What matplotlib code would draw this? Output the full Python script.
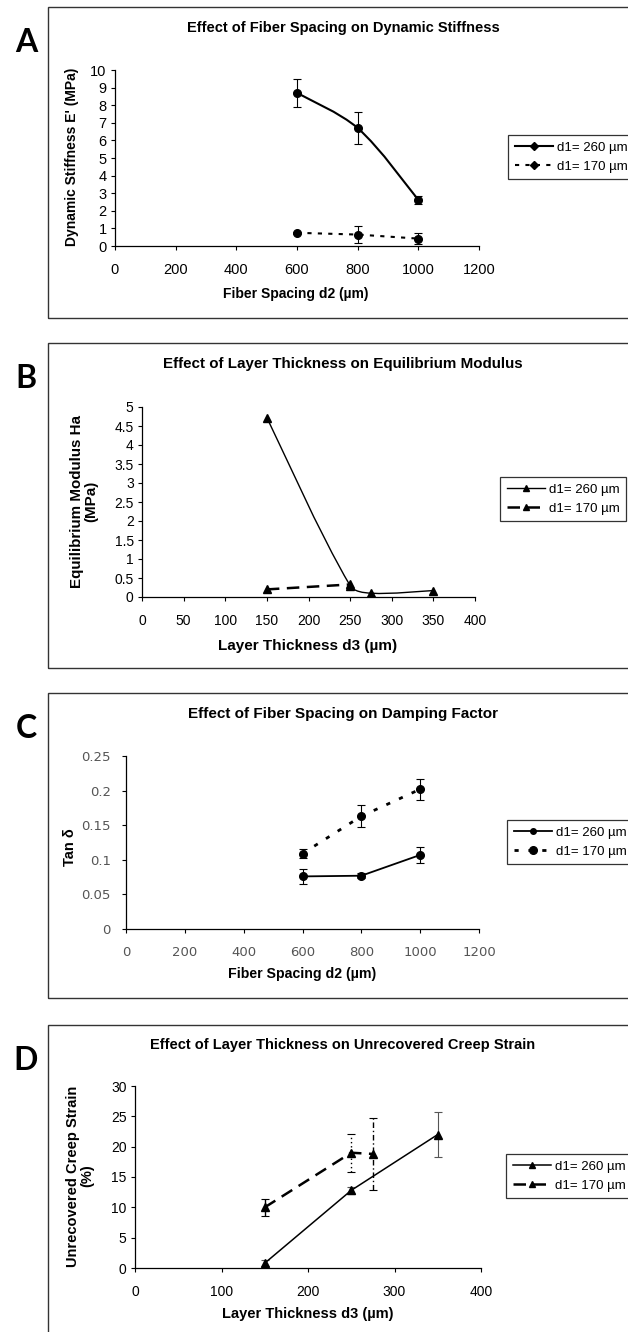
import numpy as np
import matplotlib
matplotlib.use("Agg")
import matplotlib.pyplot as plt
from matplotlib.path import Path
from matplotlib.patches import PathPatch, Rectangle
from matplotlib.lines import Line2D

# --- data ---
spacing = [600, 800, 1000]
thick_260 = [150, 250, 275, 350]
thick_170 = [150, 250]
creep_x_260 = [150, 250, 350]
creep_x_170 = [150, 250, 275]

# A: dynamic stiffness (MPa)
stiff_260 = [8.7, 6.7, 2.62]
stiff_260_err = [0.8, 0.9, 0.22]
stiff_170 = [0.75, 0.65, 0.42]
stiff_170_err = [0.05, 0.48, 0.3]

# B: equilibrium modulus (MPa)
mod_260 = [4.72, 0.3, 0.1, 0.17]
mod_170 = [0.2, 0.33]

# C: tan delta
tan_260 = [0.076, 0.077, 0.107]
tan_260_err = [0.011, 0.004, 0.012]
tan_170 = [0.109, 0.163, 0.202]
tan_170_err = [0.006, 0.016, 0.015]

# D: unrecovered creep strain (%)
creep_260 = [0.8, 12.8, 22.0]
creep_260_err = [0.5, 0.6, 3.7]
creep_170 = [10.0, 19.0, 18.8]
creep_170_err = [1.4, 3.1, 6.0]

legend_labels = ["d1= 260 \u00b5m", "d1= 170 \u00b5m"]

W, H = 628, 1332
fig = plt.figure(figsize=(W / 100, H / 100), dpi=100)
fig.patch.set_facecolor("white")

BOLD = ["Liberation Sans", "DejaVu Sans"]


def fx(px):
    return px / W


def fy(py):
    return 1 - py / H


def smooth(ax, x, y, **kw):
    # excel-like smoothed line, bezier built in screen space, tangent length
    # shared out by the lengths of the neighbouring segments
    p = ax.transData.transform(np.column_stack([x, y]).astype(float))
    n = len(p)
    d = np.hypot(*np.diff(p, axis=0).T)
    f = 1 / 6
    verts = [p[0]]
    codes = [Path.MOVETO]
    for i in range(n - 1):
        p0 = p[i - 1] if i > 0 else p[i]
        p1, p2 = p[i], p[i + 1]
        p3 = p[i + 2] if i + 2 < n else p[i + 1]
        s1 = 2 * d[i] / (d[i - 1] + d[i]) if i > 0 else 1.0
        s2 = 2 * d[i] / (d[i] + d[i + 1]) if i + 1 < n - 1 else 1.0
        verts += [p1 + (p2 - p0) * f * s1, p2 - (p3 - p1) * f * s2, p2]
        codes += [Path.CURVE4] * 3
    verts = ax.transData.inverted().transform(np.array(verts))
    ax.add_patch(PathPatch(Path(verts, codes), fill=False, **kw))


def panel(letter, box_top, box_bot, ax_rect, title, title_y, xlabel, xlabel_x, xlabel_y,
          ylabel, ylabel_x, ylabel_y, tsize=10.5, xsize=10.5, ysize=10.5):
    fig.patches.append(Rectangle((fx(48), fy(box_bot)), fx(660) - fx(48),
                                 fy(box_top) - fy(box_bot), transform=fig.transFigure,
                                 fill=False, edgecolor="#333333", lw=1.0))
    fig.text(fx(26), fy(box_top + 35), letter, fontsize=23, family="Lato",
             weight="bold", ha="center", va="center")
    fig.text(fx(343), fy(title_y), title, fontsize=tsize, weight="bold",
             family=BOLD, ha="center", va="center")
    fig.text(fx(xlabel_x), fy(xlabel_y), xlabel, fontsize=xsize, weight="bold",
             family=BOLD, ha="center", va="center")
    fig.text(fx(ylabel_x), fy(ylabel_y), ylabel, fontsize=ysize, weight="bold",
             family=BOLD, ha="center", va="center", rotation=90,
             multialignment="center", linespacing=1.05)
    l, r, t, b = ax_rect
    ax = fig.add_axes([fx(l), fy(b), fx(r) - fx(l), fy(t) - fy(b)])
    ax.set_facecolor("none")
    for s in ["top", "right"]:
        ax.spines[s].set_visible(False)
    ax.spines["left"].set_linewidth(0.9)
    ax.spines["bottom"].set_linewidth(0.9)
    ax.tick_params(axis="y", direction="out", length=3, width=0.8, pad=3)
    ax.tick_params(axis="x", direction="out", length=3, width=0.8, pad=9)
    return ax


def legend(handles, leg_x, leg_y, fam=BOLD, size=9.5):
    leg = fig.legend(handles=handles, labels=legend_labels, loc="upper left",
                     bbox_to_anchor=(fx(leg_x), fy(leg_y)), bbox_transform=fig.transFigure,
                     frameon=True, fancybox=False, prop={"family": fam, "size": size},
                     handlelength=2.9, handletextpad=0.3, borderpad=0.5,
                     labelspacing=0.5, borderaxespad=0)
    leg.get_frame().set_edgecolor("black")
    leg.get_frame().set_linewidth(0.9)


def ticks_font(ax, fam, size, color="black"):
    for lab in ax.get_xticklabels() + ax.get_yticklabels():
        lab.set_family(fam)
        lab.set_fontsize(size)
        lab.set_color(color)


# ---------------- A ----------------
axA = panel("A", 7, 318, (115, 479, 70, 246),
            "Effect of Fiber Spacing on Dynamic Stiffness", 28,
            "Fiber Spacing d2 (\u00b5m)", 296, 294,
            "Dynamic Stiffness E' (MPa)", 72, 157, tsize=10.5, xsize=10, ysize=10)
axA.set_xlim(0, 1200)
axA.set_ylim(0, 10)
smooth(axA, spacing, stiff_260, color="black", lw=1.5)
axA.errorbar(spacing, stiff_260, yerr=stiff_260_err, fmt="o", color="black",
             ms=5.5, capsize=3, elinewidth=0.8, capthick=0.8)
axA.plot(spacing, stiff_170, color="black", lw=1.5, ls=(0, (2, 3)))
axA.errorbar(spacing, stiff_170, yerr=stiff_170_err, fmt="o", color="black",
             ms=5.5, capsize=3, elinewidth=0.8, capthick=0.8)
axA.set_xticks(np.arange(0, 1201, 200))
axA.set_yticks(np.arange(0, 11, 1))
ticks_font(axA, BOLD, 10.5)
legend([Line2D([], [], color="black", lw=1.5, marker="D", ms=4),
        Line2D([], [], color="black", lw=1.5, ls=(0, (2, 3)), marker="D", ms=4)],
       508, 135)

# ---------------- B ----------------
axB = panel("B", 343, 668, (142, 475, 407, 597),
            "Effect of Layer Thickness on Equilibrium Modulus", 364,
            "Layer Thickness d3 (\u00b5m)", 308, 646,
            "Equilibrium Modulus Ha\n(MPa)", 84, 501, tsize=10.9, xsize=11, ysize=10.9)
axB.set_xlim(0, 400)
axB.set_ylim(0, 5)
smooth(axB, thick_260, mod_260, color="black", lw=1.0)
axB.plot(thick_260, mod_260, ls="none", marker="^", color="black", ms=5.5)
axB.plot(thick_170, mod_170, color="black", lw=1.8, ls=(0, (5, 3)), marker="^", ms=5.5)
axB.set_xticks(np.arange(0, 401, 50))
axB.set_yticks(np.arange(0, 5.01, 0.5))
axB.set_yticklabels(["0", "0.5", "1", "1.5", "2", "2.5", "3", "3.5", "4", "4.5", "5"])
ticks_font(axB, BOLD, 10)
legend([Line2D([], [], color="black", lw=1.0, marker="^", ms=5),
        Line2D([], [], color="black", lw=1.8, ls=(0, (5, 3)), marker="^", ms=5)],
       500, 477)

# ---------------- C ----------------
axC = panel("C", 693, 998, (126, 479, 756, 929),
            "Effect of Fiber Spacing on Damping Factor", 714,
            "Fiber Spacing d2 (\u00b5m)", 302, 974,
            "Tan \u03b4", 70, 847, tsize=11, xsize=10.2, ysize=10.5)
axC.errorbar(spacing, tan_260, yerr=tan_260_err, fmt="-o", color="black", lw=1.3,
             ms=5.5, capsize=3, elinewidth=0.8, capthick=0.8)
axC.errorbar(spacing, tan_170, yerr=tan_170_err, fmt="o", color="black",
             ms=5.5, capsize=3, elinewidth=0.8, capthick=0.8)
axC.plot(spacing, tan_170, color="black", lw=2.0, ls=(0, (1.5, 3.5)))
axC.set_xlim(0, 1200)
axC.set_ylim(0, 0.25)
axC.set_xticks(np.arange(0, 1201, 200))
axC.set_yticks(np.arange(0, 0.251, 0.05))
axC.set_yticklabels(["0", "0.05", "0.1", "0.15", "0.2", "0.25"])
axC.tick_params(axis="y", pad=8)
ticks_font(axC, ["DejaVu Sans"], 9.5, "#555555")
legend([Line2D([], [], color="black", lw=1.3, marker="o", ms=4),
        Line2D([], [], color="black", lw=2.0, ls=(0, (1.5, 3.5)), marker="o", ms=5.5)],
       507, 820)

# ---------------- D ----------------
axD = panel("D", 1025, 1345, (135, 481, 1086, 1268),
            "Effect of Layer Thickness on Unrecovered Creep Strain", 1045,
            "Layer Thickness d3 (\u00b5m)", 308, 1314,
            "Unrecovered Creep Strain\n(%)", 80, 1176)
axD.errorbar(creep_x_260, creep_260, yerr=creep_260_err, fmt="-^", color="black",
             lw=1.1, ms=6, capsize=3, elinewidth=0.8, capthick=0.8, ecolor="#555555")
eb = axD.errorbar(creep_x_170, creep_170, yerr=creep_170_err, fmt="^", color="black",
                  ms=6, capsize=3, elinewidth=1.0, capthick=0.8)
eb[2][0].set_linestyles(["-", (0, (1, 2)), (0, (4, 2, 1, 2))])
axD.plot(creep_x_170, creep_170, color="black", lw=1.8, ls=(0, (5, 3)))
axD.set_xlim(0, 400)
axD.set_ylim(0, 30)
axD.set_xticks(np.arange(0, 401, 100))
axD.set_yticks(np.arange(0, 31, 5))
ticks_font(axD, BOLD, 10)
legend([Line2D([], [], color="black", lw=1.1, marker="^", ms=5),
        Line2D([], [], color="black", lw=1.8, ls=(0, (5, 3)), marker="^", ms=5)],
       506, 1154)

fig.savefig("out.png", dpi=100)
